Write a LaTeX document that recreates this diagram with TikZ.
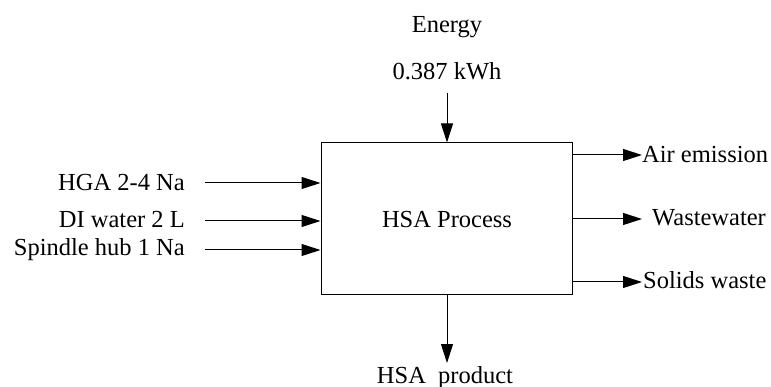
\documentclass[tikz,border=0pt]{standalone}
\usepackage{fontspec}
\setmainfont{Liberation Serif}
\usetikzlibrary{arrows.meta}
\begin{document}
\begin{tikzpicture}[x=1pt,y=-1pt,
  lbl/.style={inner sep=0pt,font=\fontsize{24.5}{28}\selectfont},
  flow/.style={line width=1pt,-{Triangle[length=19pt,width=12pt]}}]
\useasboundingbox (0,0) rectangle (771,387);
\node[draw,line width=1pt,minimum width=251pt,minimum height=152pt,inner sep=0pt] (proc) at (446.5,219) {};
\node[lbl,anchor=base] (ptext) at (447,228) {HSA Process};
% energy
\node[lbl,anchor=base] (energy) at (447,33) {Energy};
\node[lbl,anchor=base] (kwh) at (447,80) {0.387 kWh};
\coordinate (etop) at (447,93);
\draw[flow] (etop) -- (proc.north -| etop);
% inputs
\node[lbl,anchor=base east] (hga) at (185,191) {HGA 2-4 Na};
\node[lbl,anchor=base east] (di) at (185,228) {DI water 2 L};
\node[lbl,anchor=base east] (hub) at (185,256) {Spindle hub 1 Na};
\coordinate (i1) at (205,183);
\coordinate (i2) at (205,221);
\coordinate (i3) at (205,250);
\draw[flow] (i1) -- (proc.west |- i1);
\draw[flow] (i2) -- (proc.west |- i2);
\draw[flow] (i3) -- (proc.west |- i3);
% outputs
\coordinate (o1) at (642,155);
\coordinate (o2) at (642,219);
\coordinate (o3) at (642,282);
\node[lbl,anchor=base west] (air) at (642,163) {Air emission};
\node[lbl,anchor=base west] (ww) at (652,226) {Wastewater};
\node[lbl,anchor=base west] (sw) at (643,289) {Solids waste};
\draw[flow] (proc.east |- o1) -- (o1);
\draw[flow] (proc.east |- o2) -- (o2);
\draw[flow] (proc.east |- o3) -- (o3);
% product
\coordinate (pb) at (447,363);
\draw[flow] (proc.south -| pb) -- (pb);
\node[lbl,anchor=base] (prod) at (445,383) {HSA\ \ product};
\end{tikzpicture}
\end{document}
